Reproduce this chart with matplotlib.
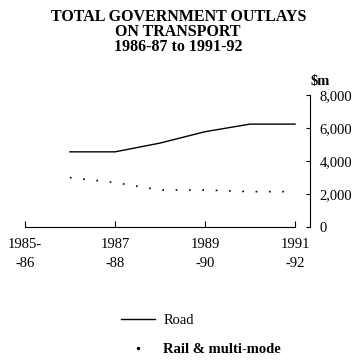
import matplotlib
matplotlib.use("Agg")
import matplotlib.pyplot as plt
from matplotlib.lines import Line2D

plt.rcParams['font.family'] = ['Liberation Serif', 'DejaVu Serif']

# outlays in $m, by starting year of each financial year
years = [1986, 1987, 1988, 1989, 1990, 1991]
road = [4560, 4560, 5090, 5780, 6240, 6240]
rail = [3000, 2700, 2250, 2250, 2150, 2150]

xticks = [1985, 1987, 1989, 1991]
xlabels = ['1985-\n-86', '1987\n-88', '1989\n-90', '1991\n-92']
yticks = [0, 2000, 4000, 6000, 8000]
ylabels = ['0', '2,000', '4,000', '6,000', '8,000']

fig = plt.figure(figsize=(3.6, 3.6), dpi=100)
ax = fig.add_axes([0.069, 0.369, 0.792, 0.367])

ax.plot(years, road, color='black', lw=1.0)
ax.plot(years, rail, color='black', lw=1.2, linestyle=(0, (1, 7)))

ax.set_xlim(1985, 1991.33)
ax.set_ylim(0, 8000)

for s in ['left', 'top']:
    ax.spines[s].set_visible(False)
ax.spines['bottom'].set_bounds(1985, 1991)
ax.spines['right'].set_bounds(0, 8000)

ax.set_xticks(xticks)
ax.set_xticklabels(xlabels, fontsize=10.5, linespacing=1.6)
ax.yaxis.tick_right()
ax.set_yticks(yticks)
ax.set_yticklabels(ylabels, fontsize=10.5)
ax.tick_params(axis='x', direction='in', length=4, pad=8)
ax.tick_params(axis='y', direction='in', length=3, pad=7)

fig.text(0.495, 0.975, 'TOTAL GOVERNMENT OUTLAYS\nON TRANSPORT\n1986-87 to 1991-92',
         ha='center', va='top', fontsize=11.5, fontweight='bold', linespacing=0.9)
fig.text(0.862, 0.755, '\\$m', ha='left', va='bottom', fontsize=10.5, fontweight='bold')

handles = [Line2D([], [], color='black', lw=1.0),
           Line2D([], [], color='black', ls='none', marker='o', ms=1.5)]
leg = fig.legend(handles, ['Road', 'Rail & multi-mode'], loc='upper left',
                 bbox_to_anchor=(0.3, 0.165), frameon=False, fontsize=10.5,
                 handlelength=2.3, labelspacing=1.1, handletextpad=0.6)
leg.get_texts()[1].set_fontweight('bold')

fig.savefig('out.png', dpi=100)
